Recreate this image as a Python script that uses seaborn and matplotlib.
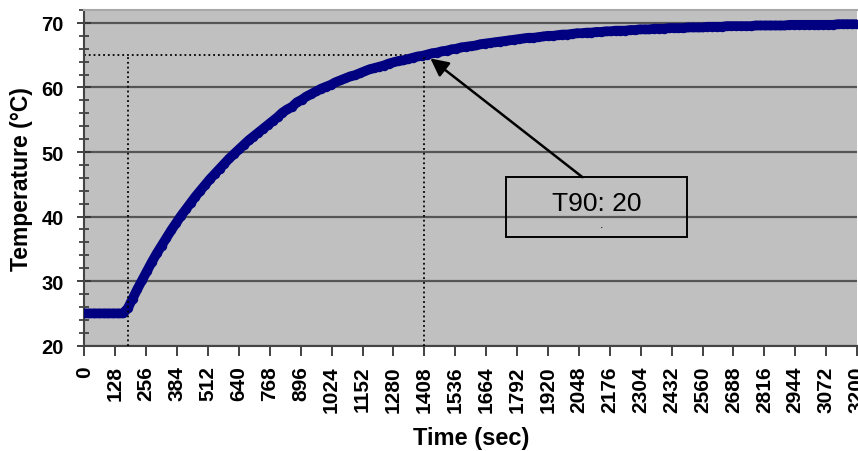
import matplotlib
matplotlib.use('Agg')
import matplotlib.pyplot as plt
import matplotlib.patches as mpatches
from matplotlib.ticker import MultipleLocator
import seaborn as sns
import pandas as pd

# sampled every 20 s
time_sec = [
    0, 20, 40, 60, 80, 100, 120, 140, 160, 180,
    200, 220, 240, 260, 280, 300, 320, 340, 360, 380,
    400, 420, 440, 460, 480, 500, 520, 540, 560, 580,
    600, 620, 640, 660, 680, 700, 720, 740, 760, 780,
    800, 820, 840, 860, 880, 900, 920, 940, 960, 980,
    1000, 1020, 1040, 1060, 1080, 1100, 1120, 1140, 1160, 1180,
    1200, 1220, 1240, 1260, 1280, 1300, 1320, 1340, 1360, 1380,
    1400, 1420, 1440, 1460, 1480, 1500, 1520, 1540, 1560, 1580,
    1600, 1620, 1640, 1660, 1680, 1700, 1720, 1740, 1760, 1780,
    1800, 1820, 1840, 1860, 1880, 1900, 1920, 1940, 1960, 1980,
    2000, 2020, 2040, 2060, 2080, 2100, 2120, 2140, 2160, 2180,
    2200, 2220, 2240, 2260, 2280, 2300, 2320, 2340, 2360, 2380,
    2400, 2420, 2440, 2460, 2480, 2500, 2520, 2540, 2560, 2580,
    2600, 2620, 2640, 2660, 2680, 2700, 2720, 2740, 2760, 2780,
    2800, 2820, 2840, 2860, 2880, 2900, 2920, 2940, 2960, 2980,
    3000, 3020, 3040, 3060, 3080, 3100, 3120, 3140, 3160, 3180,
    3200,
]
temperature = [
    25.0, 25.0, 25.0, 25.0, 25.0, 25.0, 25.0, 25.0, 25.0, 25.8,
    27.3, 28.8, 30.2, 31.6, 33.0, 34.3, 35.5, 36.7, 37.9, 39.0,
    40.1, 41.1, 42.1, 43.1, 44.0, 44.9, 45.8, 46.6, 47.4, 48.2,
    49.0, 49.7, 50.4, 51.1, 51.8, 52.4, 53.0, 53.6, 54.2, 54.8,
    55.4, 56.1, 56.6, 57.0, 57.7, 58.1, 58.6, 59.0, 59.4, 59.8,
    60.1, 60.4, 60.8, 61.1, 61.4, 61.7, 61.9, 62.2, 62.5, 62.8,
    63.0, 63.2, 63.4, 63.7, 63.9, 64.1, 64.2, 64.4, 64.6, 64.8,
    64.9, 65.1, 65.3, 65.4, 65.6, 65.7, 65.9, 66.0, 66.2, 66.3,
    66.4, 66.5, 66.7, 66.8, 66.9, 67.0, 67.1, 67.2, 67.3, 67.4,
    67.5, 67.6, 67.7, 67.7, 67.8, 67.9, 68.0, 68.0, 68.1, 68.2,
    68.2, 68.3, 68.4, 68.4, 68.5, 68.5, 68.6, 68.6, 68.7, 68.7,
    68.8, 68.8, 68.8, 68.9, 68.9, 69.0, 69.0, 69.0, 69.1, 69.1,
    69.1, 69.2, 69.2, 69.2, 69.2, 69.3, 69.3, 69.3, 69.3, 69.4,
    69.4, 69.4, 69.4, 69.5, 69.5, 69.5, 69.5, 69.5, 69.5, 69.6,
    69.6, 69.6, 69.6, 69.6, 69.6, 69.6, 69.7, 69.7, 69.7, 69.7,
    69.7, 69.7, 69.7, 69.7, 69.7, 69.7, 69.8, 69.8, 69.8, 69.8,
    69.8,
]
x_ticks = [0, 128, 256, 384, 512, 640, 768, 896, 1024, 1152, 1280, 1408, 1536,
           1664, 1792, 1920, 2048, 2176, 2304, 2432, 2560, 2688, 2816, 2944,
           3072, 3200]
y_ticks = [20, 30, 40, 50, 60, 70]

t_start = 182      # start of the rise
t90 = 1408         # time at 90 %
temp90 = 65
t90_label = 'T90: 20'

df = pd.DataFrame({'Time': time_sec, 'Temp': temperature})

sns.set_theme(style='ticks')
plt.rcParams['font.family'] = ['Liberation Sans', 'DejaVu Sans']
plt.rcParams['text.color'] = 'black'

fig = plt.figure(figsize=(8.58, 4.52), dpi=100)
ax = fig.add_axes([0.0983, 0.2330, 0.9006, 0.7427])
ax.set_facecolor('#c0c0c0')

ax.yaxis.grid(True, color='#555555', linewidth=1.6)
ax.xaxis.grid(False)
ax.set_axisbelow(True)

sns.lineplot(data=df, x='Time', y='Temp', ax=ax, color='#000080', linewidth=7,
             marker='o', markersize=6.8, markeredgewidth=0, zorder=3)

# dotted guide lines
ax.plot([0, t90], [temp90, temp90], color='black', linestyle=':', linewidth=1.3, zorder=2)
ax.plot([t_start, t_start], [20, temp90], color='black', linestyle=':', linewidth=1.3, zorder=4)
ax.plot([t90, t90], [20, temp90], color='black', linestyle=':', linewidth=1.3, zorder=4)

# annotation box + arrow
box = mpatches.Rectangle((1748, 36.9), 746, 9.2, fill=False, edgecolor='black',
                         linewidth=1.4, zorder=5)
ax.add_patch(box)
ax.text(2121, 42.1, t90_label, fontsize=19, color='black', ha='center', va='center', zorder=6)
ax.text(2140, 38.8, '.', fontsize=9, color='black', ha='center', va='center', zorder=6)
ax.annotate('', xy=(1433, 64.5), xytext=(2063, 46.1),
            arrowprops=dict(arrowstyle='-|>,head_length=0.9,head_width=0.45',
                            color='black', linewidth=1.8, shrinkA=0, shrinkB=0),
            zorder=6)

ax.set_xlim(0, 3200)
ax.set_ylim(20, 72)
ax.set_xticks(x_ticks)
ax.set_xticklabels([str(v) for v in x_ticks], rotation=90, fontsize=15,
                   fontweight='bold', color='black')
ax.set_yticks(y_ticks)
ax.set_yticklabels([str(v) for v in y_ticks], fontsize=14.5, fontweight='bold', color='black')
ax.yaxis.set_minor_locator(MultipleLocator(2))
ax.tick_params(axis='x', direction='out', length=7, width=1.3, color='#333333', pad=7)
ax.tick_params(axis='y', which='major', direction='inout', length=10, width=1.3,
               color='#333333', pad=10)
ax.tick_params(axis='y', which='minor', direction='inout', length=7, width=1.2, color='#333333')

for side in ['left', 'bottom']:
    ax.spines[side].set_color('#444444')
    ax.spines[side].set_linewidth(1.5)
ax.spines['top'].set_color('#a8a8a8')
ax.spines['top'].set_linewidth(1.5)
ax.spines['right'].set_visible(False)

ax.set_xlabel('Time (sec)', fontsize=17, fontweight='bold', color='black', labelpad=10)
ax.set_ylabel('Temperature (°C)', fontsize=16.5, fontweight='bold', color='black', labelpad=6)

fig.savefig('out.png', dpi=100)
